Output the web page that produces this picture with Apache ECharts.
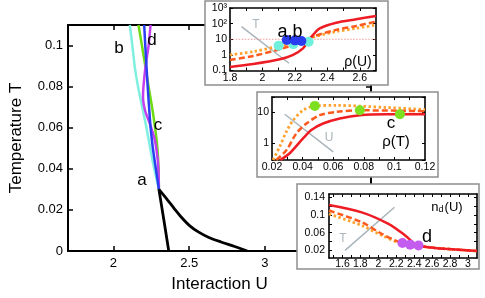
<!DOCTYPE html>
<html><head><meta charset="utf-8">
<script src="https://cdn.jsdelivr.net/npm/echarts@6/dist/echarts.min.js"></script>
<style>html,body{margin:0;padding:0;background:#fff}#c{width:485px;height:298px}</style>
</head><body><div id="c"></div>
<script>
// ---------- main phase diagram: T vs U ----------
const mainXTicks = [2, 2.5, 3, 3.5];
const mainYTicks = [0, 0.02, 0.04, 0.06, 0.08, 0.1];
const lineB = [[2.108,0.11],[2.125,0.100],[2.140,0.090],[2.162,0.080],[2.190,0.070],[2.218,0.060],[2.250,0.047],[2.275,0.038],[2.300,0.030]];
const lineC = [[2.165,0.11],[2.188,0.100],[2.210,0.090],[2.232,0.080],[2.255,0.070],[2.275,0.060],[2.290,0.050],[2.298,0.040],[2.300,0.030]];
const lineD = [[2.245,0.11],[2.232,0.100],[2.212,0.090],[2.198,0.080],[2.195,0.075],[2.210,0.068],[2.240,0.062],[2.270,0.055],[2.290,0.046],[2.298,0.038],[2.300,0.030]];
const lineA = [[2.203,0.11],[2.210,0.100],[2.218,0.090],[2.226,0.080],[2.235,0.070],[2.245,0.060],[2.260,0.050],[2.280,0.040],[2.300,0.030]];
const blackUpper = [[2.300,0.0300],[2.350,0.0255],[2.400,0.0208],[2.450,0.0163],[2.500,0.0125],[2.560,0.0093],[2.630,0.0066],[2.710,0.0044],[2.800,0.0022],[2.883,0]];
const blackLower = [[2.300,0.030],[2.333,0.015],[2.365,0]];

// ---------- inset 1: rho(U), log scale ----------
const in1XLabels = [1.8, 2, 2.2, 2.4, 2.6];
const in1XTicks = [1.9, 2.0, 2.1, 2.2, 2.3, 2.4, 2.5, 2.6];
const rhoUSolid = [[1.80,0.17],[1.943,0.26],[2.107,0.52],[2.189,1.0],[2.25,2.6],[2.287,9],[2.312,19],[2.353,50],[2.455,115],[2.578,190],[2.70,310]];
const rhoUDashed = [[1.80,0.47],[1.943,0.85],[2.107,2.3],[2.189,4.3],[2.25,7],[2.312,15],[2.455,40],[2.578,71],[2.70,135]];
const rhoUDotted = [[1.80,1.0],[1.943,1.6],[2.107,3.7],[2.25,7],[2.312,13.5],[2.455,31],[2.578,50],[2.70,83]];
const rhoURef = [[1.80,10],[2.70,10]];
const dotsB = [[2.10,3.9],[2.19,4.8],[2.285,7]];
const dotsA = [[2.15,9],[2.20,8.5],[2.24,7.8]];
const arrowT1 = [[2.164,0.29],[1.871,65]];

// ---------- inset 2: rho(T), log scale ----------
const in2XLabels = [0.02, 0.04, 0.06, 0.08, 0.1, 0.12];
const in2XTicks = [0.03, 0.04, 0.05, 0.06, 0.07, 0.08, 0.09, 0.1, 0.11];
const rhoTSolid = [[0.0254,0.29],[0.0316,0.48],[0.0403,1.45],[0.0457,2.7],[0.0534,4.4],[0.0643,6.4],[0.0774,8.2],[0.0949,8.8],[0.12,8.8]];
const rhoTDashed = [[0.0228,0.29],[0.0294,0.6],[0.0359,2.1],[0.0425,4.4],[0.0512,8.2],[0.0621,10.5],[0.0774,11.8],[0.12,11]];
const rhoTDotted = [[0.0207,0.29],[0.025,0.78],[0.0294,2.4],[0.0338,5.6],[0.0403,11.8],[0.048,16.4],[0.0621,17],[0.0949,14.5],[0.12,12.5]];
const dotsC = [[0.048,16.4],[0.0774,11.8],[0.1036,8.8]];
const arrowU = [[0.060,0.53],[0.0283,8.8]];

// ---------- inset 3: n_d(U) ----------
const in3XLabels = [1.6, 1.8, 2, 2.2, 2.4, 2.6, 2.8, 3];
const in3XTicks = [1.5,1.6,1.7,1.8,1.9,2.0,2.1,2.2,2.3,2.4,2.5,2.6,2.7,2.8,2.9,3.0];
const in3YLabels = [0.02, 0.06, 0.1, 0.14];
const in3YTicks = [0.02, 0.04, 0.06, 0.08, 0.1, 0.12, 0.14];
const ndSolid = [[1.45,0.1225],[1.815,0.106],[2.113,0.0798],[2.299,0.0536],[2.374,0.0401],[2.43,0.0315],[2.45,0.0305],[2.55,0.027],[2.746,0.0234],[3.10,0.0183]];
const ndDashed = [[1.45,0.110],[1.815,0.0836],[2.039,0.0572],[2.262,0.0363],[2.36,0.0328],[2.45,0.0305],[2.55,0.027],[2.746,0.0234],[3.10,0.0183]];
const ndDotted = [[1.45,0.1023],[1.815,0.0761],[2.039,0.0536],[2.262,0.0347],[2.36,0.032],[2.45,0.0305],[2.55,0.027],[2.746,0.0234],[3.10,0.0183]];
const dotsD = [[2.269,0.0363],[2.355,0.0328],[2.448,0.0308]];
const arrowT3 = [[2.18,0.1174],[1.629,0.0198]];

const FONT = "'Liberation Sans', Arial, Helvetica, sans-serif";
const RED = '#ee1c24', DASH = '#ff5a1e', DOT = '#ffa22e', GRAY = '#a9b5bb';
const fmt = v => String(+(+v).toFixed(4));

function xAx(grid, min, max, pos, labels, ticks, opt) {
  const inset = grid > 0;
  return Object.assign({
    gridIndex: grid, type: 'value', min, max, position: pos, z: inset ? 10 : 0,
    axisLine: { onZero: false, lineStyle: { color: '#000', width: inset ? 1.6 : 2 } },
    axisTick: { show: true, inside: true, length: inset ? 3 : 5, customValues: ticks, lineStyle: { color: '#000', width: inset ? 1 : 1.5 } },
    axisLabel: labels ? { show: true, customValues: labels, formatter: fmt, color: '#000', fontFamily: FONT, fontSize: inset ? 10.5 : 13, margin: inset ? 2 : 6 } : { show: false },
    splitLine: { show: false }
  }, opt || {});
}
function yAx(grid, min, max, pos, labels, ticks, opt) {
  const inset = grid > 0;
  return Object.assign({
    gridIndex: grid, type: 'value', min, max, position: pos, z: inset ? 10 : 0,
    axisLine: { onZero: false, lineStyle: { color: '#000', width: inset ? 1.6 : 2 } },
    axisTick: { show: true, inside: true, length: inset ? 3 : 5, customValues: ticks, lineStyle: { color: '#000', width: inset ? 1 : 1.5 } },
    axisLabel: labels ? { show: true, customValues: labels, formatter: fmt, color: '#000', fontFamily: FONT, fontSize: inset ? 10.5 : 13, margin: inset ? 4 : 5 } : { show: false },
    splitLine: { show: false }
  }, opt || {});
}
function logAx(grid, min, max, pos, showLabels, names) {
  return {
    gridIndex: grid, type: 'log', logBase: 10, min, max, position: pos, z: 10,
    axisLine: { onZero: false, lineStyle: { color: '#000', width: 1.6 } },
    axisTick: { show: true, inside: true, length: 3, lineStyle: { color: '#000', width: 1 } },
    axisLabel: { show: showLabels, color: '#000', fontFamily: FONT, fontSize: 10.5, margin: 3,
      formatter: v => { const l = Math.log10(v), e = Math.round(l); if (Math.abs(l - e) > 1e-6) return ''; return names[String(e)] || ''; } },
    splitLine: { show: false }, minorTick: { show: false }
  };
}

const xAxis = [
  xAx(0, 1.7, 3.7, 'bottom', mainXTicks, mainXTicks, { name: 'Interaction U', nameLocation: 'middle', nameGap: 25, nameTextStyle: { fontFamily: FONT, fontSize: 17, color: '#000' } }),
  xAx(0, 1.7, 3.7, 'top', null, mainXTicks),
  xAx(1, 1.8, 2.7, 'bottom', in1XLabels, in1XTicks),
  xAx(1, 1.8, 2.7, 'top', null, in1XTicks),
  xAx(2, 0.02, 0.12, 'bottom', in2XLabels, in2XTicks),
  xAx(2, 0.02, 0.12, 'top', null, in2XTicks),
  xAx(3, 1.45, 3.1, 'bottom', in3XLabels, in3XTicks, { axisLabel: { show: true, customValues: in3XLabels, formatter: fmt, color: '#000', fontFamily: FONT, fontSize: 10.5, margin: 1 } }),
  xAx(3, 1.45, 3.1, 'top', null, in3XTicks)
];
const yAxis = [
  yAx(0, 0, 0.11, 'left', mainYTicks, mainYTicks, { name: 'Temperature T', nameLocation: 'middle', nameGap: 43, nameRotate: 90, nameTextStyle: { fontFamily: FONT, fontSize: 17, color: '#000' } }),
  yAx(0, 0, 0.11, 'right', null, mainYTicks),
  logAx(1, 0.1, 1000, 'left', true, { '-1': '0.1', '0': '1', '1': '10', '2': '10\u00b2', '3': '10\u00b3' }),
  logAx(1, 0.1, 1000, 'right', false, {}),
  logAx(2, 0.29, 31.8, 'left', true, { '0': '1', '1': '10' }),
  logAx(2, 0.29, 31.8, 'right', false, {}),
  yAx(3, 0.0025, 0.1475, 'left', in3YLabels, in3YTicks),
  yAx(3, 0.0025, 0.1475, 'right', null, in3YTicks)
];

function ln(data, color, xi, yi, type, width, z, sm) {
  return { type: 'line', data, xAxisIndex: xi, yAxisIndex: yi, showSymbol: false, symbol: 'none', smooth: sm == null ? 0.3 : sm,
    z: z == null ? 10 : z, lineStyle: { color, width: width || 2.5, type: type || 'solid', cap: 'butt' }, silent: true };
}
function dots(data, color, xi, yi, size) {
  return { type: 'scatter', data, xAxisIndex: xi, yAxisIndex: yi, symbol: 'circle', symbolSize: size || 10, z: 12,
    itemStyle: { color, opacity: 1 }, silent: true };
}
function arrow(pts, xi, yi) {
  return { type: 'line', data: [], xAxisIndex: xi, yAxisIndex: yi, z: 11,
    markLine: { silent: true, symbol: ['none', 'arrow'], symbolSize: [0, 8], animation: false,
      lineStyle: { color: GRAY, width: 1.5, type: 'solid' }, label: { show: false }, emphasis: { disabled: true },
      data: [[{ coord: pts[0] }, { coord: pts[1] }]] } };
}

const series = [
  ln(lineB, '#7ff0df', 0, 0, 'solid', 2.5, 2, 0.15),
  ln(lineC, '#6ddc14', 0, 0, 'solid', 2.5, 2, 0.15),
  ln(lineD, '#c23ff0', 0, 0, 'solid', 2.5, 2, 0.15),
  ln(lineA, '#2b3ff2', 0, 0, 'solid', 2.5, 2, 0.15),
  ln(blackUpper, '#000', 0, 0, 'solid', 2.8, 2, 0.3),
  ln(blackLower, '#000', 0, 0, 'solid', 2.8, 2, 0),
  // inset 1
  ln(rhoURef, '#f08080', 2, 2, [1.5, 1.5], 0.8),
  ln(rhoUDotted, DOT, 2, 2, [2.5, 2.5], 2.8),
  ln(rhoUDashed, DASH, 2, 2, [6, 3], 2.5),
  ln(rhoUSolid, RED, 2, 2, 'solid', 2.5),
  arrow(arrowT1, 2, 2),
  dots(dotsB, '#6ff0dc', 2, 2, 10),
  dots(dotsA, '#2a3cf0', 2, 2, 10),
  // inset 2
  ln(rhoTDotted, DOT, 4, 4, [2.5, 2.5], 2.8),
  ln(rhoTDashed, DASH, 4, 4, [6, 3], 2.5),
  ln(rhoTSolid, RED, 4, 4, 'solid', 2.5),
  arrow(arrowU, 4, 4),
  dots(dotsC, '#7ce021', 4, 4, 10),
  // inset 3
  ln(ndDotted, DOT, 6, 6, [2.5, 2.5], 2.8),
  ln(ndDashed, DASH, 6, 6, [6, 3], 2.5),
  ln(ndSolid, RED, 6, 6, 'solid', 2.5),
  arrow(arrowT3, 6, 6),
  dots(dotsD, '#c45cf0', 6, 6, 10)
];

function box(x, y, w, h) {
  return { type: 'rect', z: 5, shape: { x, y, width: w, height: h }, style: { fill: '#fff', stroke: '#8e8e8e', lineWidth: 1.5 }, silent: true };
}
function txt(x, y, text, size, color, extra) {
  return Object.assign({ type: 'text', z: 20, x, y, silent: true,
    style: { text, fill: color || '#000', font: size + 'px ' + FONT, align: 'center', verticalAlign: 'middle' } }, extra || {});
}

const graphic = [
  box(205, 1, 183, 84),
  box(257, 92, 181, 85),
  box(297, 184, 182, 85),
  txt(119, 48, 'b', 17), txt(152, 40, 'd', 17), txt(158, 125, 'c', 17), txt(142, 180, 'a', 17),
  txt(290, 32, 'a,b', 18), txt(358, 62, '\u03c1(U)', 14), txt(256, 25, 'T', 12, GRAY),
  txt(391, 123, 'c', 17), txt(396, 142, '\u03c1(T)', 15), txt(329, 138, 'U', 12, GRAY),
  txt(427, 237, 'd', 18), txt(343, 239, 'T', 12, GRAY),
  { type: 'text', z: 20, x: 447, y: 207, silent: true,
    style: { text: '{a|n}{b|d}{a|(U)}', align: 'center', verticalAlign: 'middle', fill: '#000',
      rich: { a: { fontFamily: FONT, fontSize: 13, lineHeight: 15, fill: '#000' },
              b: { fontFamily: FONT, fontSize: 9, lineHeight: 9, verticalAlign: 'bottom', fill: '#000', padding: [0, 1, 0, 0] } } } }
];

const chart = echarts.init(document.getElementById('c'), null, { renderer: 'canvas' });
chart.setOption({
  animation: false,
  backgroundColor: '#fff',
  grid: [
    { left: 62, top: 25, width: 309, height: 231, z: 0 },
    { left: 230, top: 8, width: 146, height: 62.5, z: 10 },
    { left: 272, top: 97, width: 153, height: 63, z: 10 },
    { left: 329, top: 194, width: 148, height: 64, z: 10 }
  ],
  xAxis, yAxis, series, graphic
});
</script></body></html>
